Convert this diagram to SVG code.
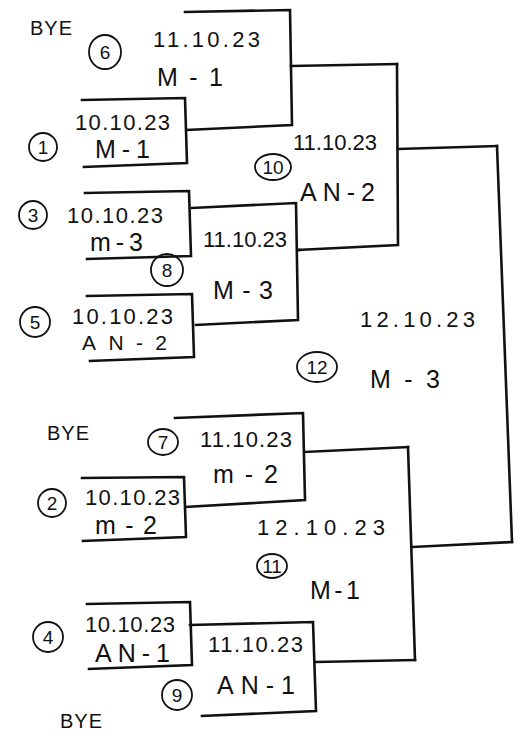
<svg xmlns="http://www.w3.org/2000/svg" width="525" height="736" viewBox="0 0 525 736">
<style>
.ln{fill:none;stroke:#111;stroke-width:2.6;stroke-linejoin:miter;stroke-linecap:square}
.c{fill:none;stroke:#111;stroke-width:1.8}
.t{font-family:"Liberation Sans",Arial,sans-serif;font-size:22px;fill:#111}
.m{font-family:"Liberation Sans",Arial,sans-serif;font-size:25px;fill:#111}
.s{font-family:"Liberation Sans",Arial,sans-serif;font-size:21px;fill:#111}
.n{font-family:"Liberation Sans",Arial,sans-serif;font-size:19px;fill:#111;text-anchor:middle}
.b{font-family:"Liberation Sans",Arial,sans-serif;font-size:20px;fill:#111;letter-spacing:1px}
</style>
<rect width="525" height="736" fill="#fff"/>
<g id="byes">
<text class="b" x="30" y="35">BYE</text>
<text class="b" x="47" y="440">BYE</text>
<text class="b" x="60" y="728">BYE</text>
</g>
<g id="connectors">
<path class="ln" d="M291,66 L397,64"/>
<path class="ln" d="M298,250 L300,250"/>
<path class="ln" d="M398,149 L497,146"/>
<path class="ln" d="M305,452 L408,447"/>
<path class="ln" d="M316,662 L415,660"/>
<path class="ln" d="M413,547 L512,542"/>
</g>
<g id="match1">
<path class="ln" d="M82,100 L185,98 L187,163 L84,167"/>
<ellipse class="c" cx="43" cy="147" rx="14" ry="14"/>
<text class="n" x="43" y="154">1</text>
<text class="t" x="75" y="130" textLength="95" lengthAdjust="spacing">10.10.23</text>
<text class="m" x="95" y="158" textLength="55" lengthAdjust="spacing">M-1</text>
</g>
<g id="match6">
<path class="ln" d="M185,12 L290,10 L292,125 L187,130"/>
<ellipse class="c" cx="105" cy="52" rx="16" ry="17"/>
<text class="n" x="105" y="59">6</text>
<text class="t" x="153" y="47" textLength="107" lengthAdjust="spacing">11.10.23</text>
<text class="m" x="157" y="86" textLength="66" lengthAdjust="spacing">M-1</text>
</g>
<g id="match3">
<path class="ln" d="M85,193 L189,191 L191,256 L87,259"/>
<ellipse class="c" cx="33" cy="215" rx="14" ry="14"/>
<text class="n" x="33" y="222">3</text>
<text class="t" x="67" y="223" textLength="96" lengthAdjust="spacing">10.10.23</text>
<text class="m" x="90" y="251" textLength="53" lengthAdjust="spacing">m-3</text>
</g>
<g id="match5">
<path class="ln" d="M87,296 L192,294 L194,357 L90,361"/>
<ellipse class="c" cx="35" cy="322" rx="15" ry="15"/>
<text class="n" x="35" y="329">5</text>
<text class="t" x="72" y="324" textLength="101" lengthAdjust="spacing">10.10.23</text>
<text class="s" x="82" y="350" textLength="85" lengthAdjust="spacing">AN-2</text>
</g>
<g id="match8">
<path class="ln" d="M192,208 L296,203 L298,320 L196,325"/>
<ellipse class="c" cx="167" cy="270" rx="16" ry="16"/>
<text class="n" x="167" y="277">8</text>
<text class="t" x="203" y="247" textLength="84" lengthAdjust="spacing">11.10.23</text>
<text class="m" x="213" y="299" textLength="60" lengthAdjust="spacing">M-3</text>
</g>
<g id="match10">
<path class="ln" d="M397,64 L398,245 L298,250"/>
<ellipse class="c" cx="273" cy="167" rx="18" ry="13"/>
<text class="n" x="273" y="174">10</text>
<text class="t" x="293" y="150" textLength="84" lengthAdjust="spacing">11.10.23</text>
<text class="m" x="300" y="201" textLength="75" lengthAdjust="spacing">AN-2</text>
</g>
<g id="match12">
<path class="ln" d="M497,146 L512,542"/>
<ellipse class="c" cx="317" cy="367" rx="20" ry="15"/>
<text class="n" x="317" y="374">12</text>
<text class="t" x="360" y="327" textLength="115" lengthAdjust="spacing">12.10.23</text>
<text class="m" x="370" y="388" textLength="70" lengthAdjust="spacing">M-3</text>
</g>
<g id="match2">
<path class="ln" d="M82,478 L184,477 L186,537 L83,541"/>
<ellipse class="c" cx="52" cy="503" rx="14" ry="14"/>
<text class="n" x="52" y="510">2</text>
<text class="t" x="85" y="505" textLength="95" lengthAdjust="spacing">10.10.23</text>
<text class="m" x="95" y="534" textLength="62" lengthAdjust="spacing">m-2</text>
</g>
<g id="match7">
<path class="ln" d="M175,418 L303,413 L305,500 L186,507"/>
<ellipse class="c" cx="163" cy="442" rx="15" ry="13"/>
<text class="n" x="163" y="449">7</text>
<text class="t" x="200" y="447" textLength="92" lengthAdjust="spacing">11.10.23</text>
<text class="m" x="213" y="483" textLength="65" lengthAdjust="spacing">m-2</text>
</g>
<g id="match4">
<path class="ln" d="M87,604 L190,602 L192,665 L89,669"/>
<ellipse class="c" cx="48" cy="637" rx="15" ry="15"/>
<text class="n" x="48" y="644">4</text>
<text class="t" x="85" y="632" textLength="90" lengthAdjust="spacing">10.10.23</text>
<text class="m" x="95" y="662" textLength="75" lengthAdjust="spacing">AN-1</text>
</g>
<g id="match9">
<path class="ln" d="M190,625 L313,622 L316,711 L202,716"/>
<ellipse class="c" cx="177" cy="695" rx="15" ry="15"/>
<text class="n" x="177" y="702">9</text>
<text class="t" x="208" y="652" textLength="95" lengthAdjust="spacing">11.10.23</text>
<text class="m" x="217" y="694" textLength="78" lengthAdjust="spacing">AN-1</text>
</g>
<g id="match11">
<path class="ln" d="M408,447 L415,660"/>
<ellipse class="c" cx="272" cy="566" rx="15" ry="12"/>
<text class="n" x="272" y="573">11</text>
<text class="t" x="257" y="535" textLength="128" lengthAdjust="spacing">12.10.23</text>
<text class="m" x="310" y="599" textLength="50" lengthAdjust="spacing">M-1</text>
</g>
</svg>
